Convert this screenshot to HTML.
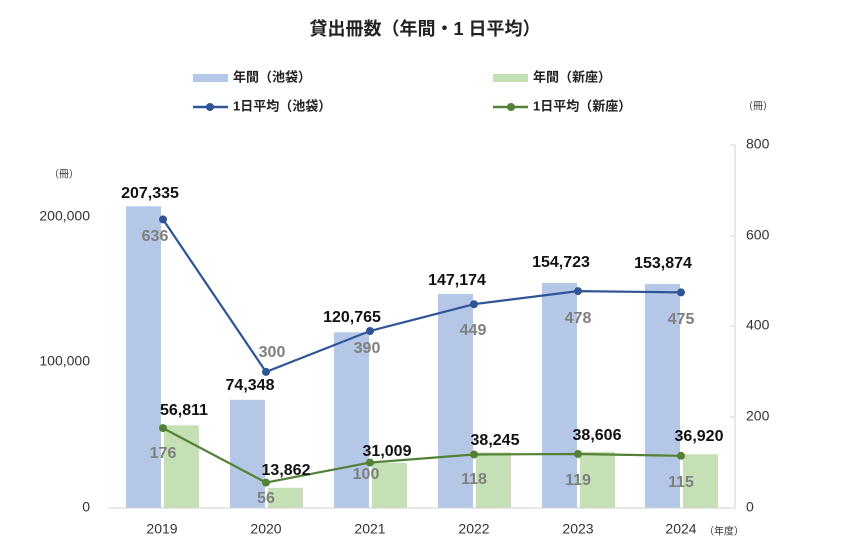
<!DOCTYPE html>
<html><head><meta charset="utf-8"><style>
body{margin:0;background:#fff}
svg{display:block;font-family:"Liberation Sans","Noto Sans CJK JP",sans-serif}
</style></head><body>
<svg width="850" height="553" viewBox="0 0 850 553" xmlns="http://www.w3.org/2000/svg">
<text x="425" y="30" text-anchor="middle" dominant-baseline="middle" font-size="18" font-weight="bold" fill="#222">貸出冊数（年間・1 日平均）</text>
<!-- legend -->
<rect x="193" y="74" width="35" height="8" fill="#b4c7e7"/>
<text x="233" y="78" dominant-baseline="middle" font-size="13" font-weight="bold" fill="#222">年間（池袋）</text>
<rect x="493" y="74" width="35" height="8" fill="#c5e0b4"/>
<text x="533" y="78" dominant-baseline="middle" font-size="13" font-weight="bold" fill="#222">年間（新座）</text>
<line x1="193" y1="107" x2="228" y2="107" stroke="#2f5597" stroke-width="2.5"/><circle cx="210" cy="107" r="4" fill="#2f5597"/>
<text x="233" y="107" dominant-baseline="middle" font-size="13" font-weight="bold" fill="#222">1日平均（池袋）</text>
<line x1="493" y1="107" x2="528" y2="107" stroke="#538135" stroke-width="2.5"/><circle cx="511" cy="107" r="4" fill="#538135"/>
<text x="533" y="107" dominant-baseline="middle" font-size="13" font-weight="bold" fill="#222">1日平均（新座）</text>
<text x="758" y="107" text-anchor="middle" dominant-baseline="middle" font-size="10" fill="#333">（冊）</text>
<text x="64" y="175" text-anchor="middle" dominant-baseline="middle" font-size="10" fill="#333">（冊）</text>
<!-- axes -->
<g font-size="14" fill="#333" dominant-baseline="middle">
<text x="90" y="217" text-anchor="end">200,000</text>
<text x="90" y="362" text-anchor="end">100,000</text>
<text x="90" y="508" text-anchor="end">0</text>
<text x="746" y="145">800</text>
<text x="746" y="236">600</text>
<text x="746" y="326">400</text>
<text x="746" y="417">200</text>
<text x="746" y="508">0</text>
<text x="162" y="530" text-anchor="middle">2019</text>
<text x="266" y="530" text-anchor="middle">2020</text>
<text x="370" y="530" text-anchor="middle">2021</text>
<text x="474" y="530" text-anchor="middle">2022</text>
<text x="578" y="530" text-anchor="middle">2023</text>
<text x="681" y="530" text-anchor="middle">2024</text>
</g>
<text x="724" y="532" text-anchor="middle" dominant-baseline="middle" font-size="10" fill="#333">（年度）</text>
<line x1="735" y1="145" x2="735" y2="508" stroke="#d0d0d0"/>
<g stroke="#d0d0d0"><line x1="730" y1="145" x2="735" y2="145"/><line x1="730" y1="236" x2="735" y2="236"/><line x1="730" y1="326" x2="735" y2="326"/><line x1="730" y1="417" x2="735" y2="417"/><line x1="730" y1="508" x2="735" y2="508"/></g>
<!-- bars -->
<g fill="#b4c7e7">
<rect x="126" y="206.3" width="35" height="301.7"/>
<rect x="230" y="399.8" width="35" height="108.2"/>
<rect x="334" y="332.3" width="35" height="175.7"/>
<rect x="438" y="293.9" width="35" height="214.1"/>
<rect x="542" y="282.9" width="35" height="225.1"/>
<rect x="645" y="284.1" width="35" height="223.9"/>
</g>
<g fill="#c5e0b4">
<rect x="164" y="425.3" width="35" height="82.7"/>
<rect x="268" y="487.8" width="35" height="20.2"/>
<rect x="372" y="462.9" width="35" height="45.1"/>
<rect x="476" y="452.4" width="35" height="55.6"/>
<rect x="580" y="451.8" width="35" height="56.2"/>
<rect x="683" y="454.3" width="35" height="53.7"/>
</g>
<line x1="108" y1="508" x2="735" y2="508" stroke="#d0d0d0"/>
<!-- lines -->
<polyline points="163,219.4 266,371.9 370,331 474,304.2 578,291.1 681,292.4" fill="none" stroke="#2f5597" stroke-width="2.2"/>
<g fill="#2f5597"><circle cx="163" cy="219.4" r="4"/><circle cx="266" cy="371.9" r="4"/><circle cx="370" cy="331" r="4"/><circle cx="474" cy="304.2" r="4"/><circle cx="578" cy="291.1" r="4"/><circle cx="681" cy="292.4" r="4"/></g>
<polyline points="163,428.1 266,482.6 370,462.6 474,454.5 578,454 681,455.8" fill="none" stroke="#538135" stroke-width="2.2"/>
<g fill="#538135"><circle cx="163" cy="428.1" r="4"/><circle cx="266" cy="482.6" r="4"/><circle cx="370" cy="462.6" r="4"/><circle cx="474" cy="454.5" r="4"/><circle cx="578" cy="454" r="4"/><circle cx="681" cy="455.8" r="4"/></g>
<!-- labels -->
<g font-size="16" font-weight="bold" fill="#111" text-anchor="middle" dominant-baseline="middle">
<text x="150" y="194">207,335</text>
<text x="250" y="386">74,348</text>
<text x="352" y="318">120,765</text>
<text x="457" y="281">147,174</text>
<text x="561" y="263">154,723</text>
<text x="663" y="264">153,874</text>
<text x="184" y="411">56,811</text>
<text x="286" y="471">13,862</text>
<text x="387" y="452">31,009</text>
<text x="495" y="441">38,245</text>
<text x="597" y="436">38,606</text>
<text x="699" y="437">36,920</text>
</g>
<g font-size="16" font-weight="bold" fill="#7f7f7f" text-anchor="middle" dominant-baseline="middle">
<text x="155" y="237">636</text>
<text x="272" y="353">300</text>
<text x="367" y="349">390</text>
<text x="473" y="331">449</text>
<text x="578" y="319">478</text>
<text x="681" y="320">475</text>
<text x="163" y="454">176</text>
<text x="266" y="499">56</text>
<text x="366" y="475">100</text>
<text x="474" y="480">118</text>
<text x="578" y="481">119</text>
<text x="681" y="483">115</text>
</g>
</svg>
</body></html>
